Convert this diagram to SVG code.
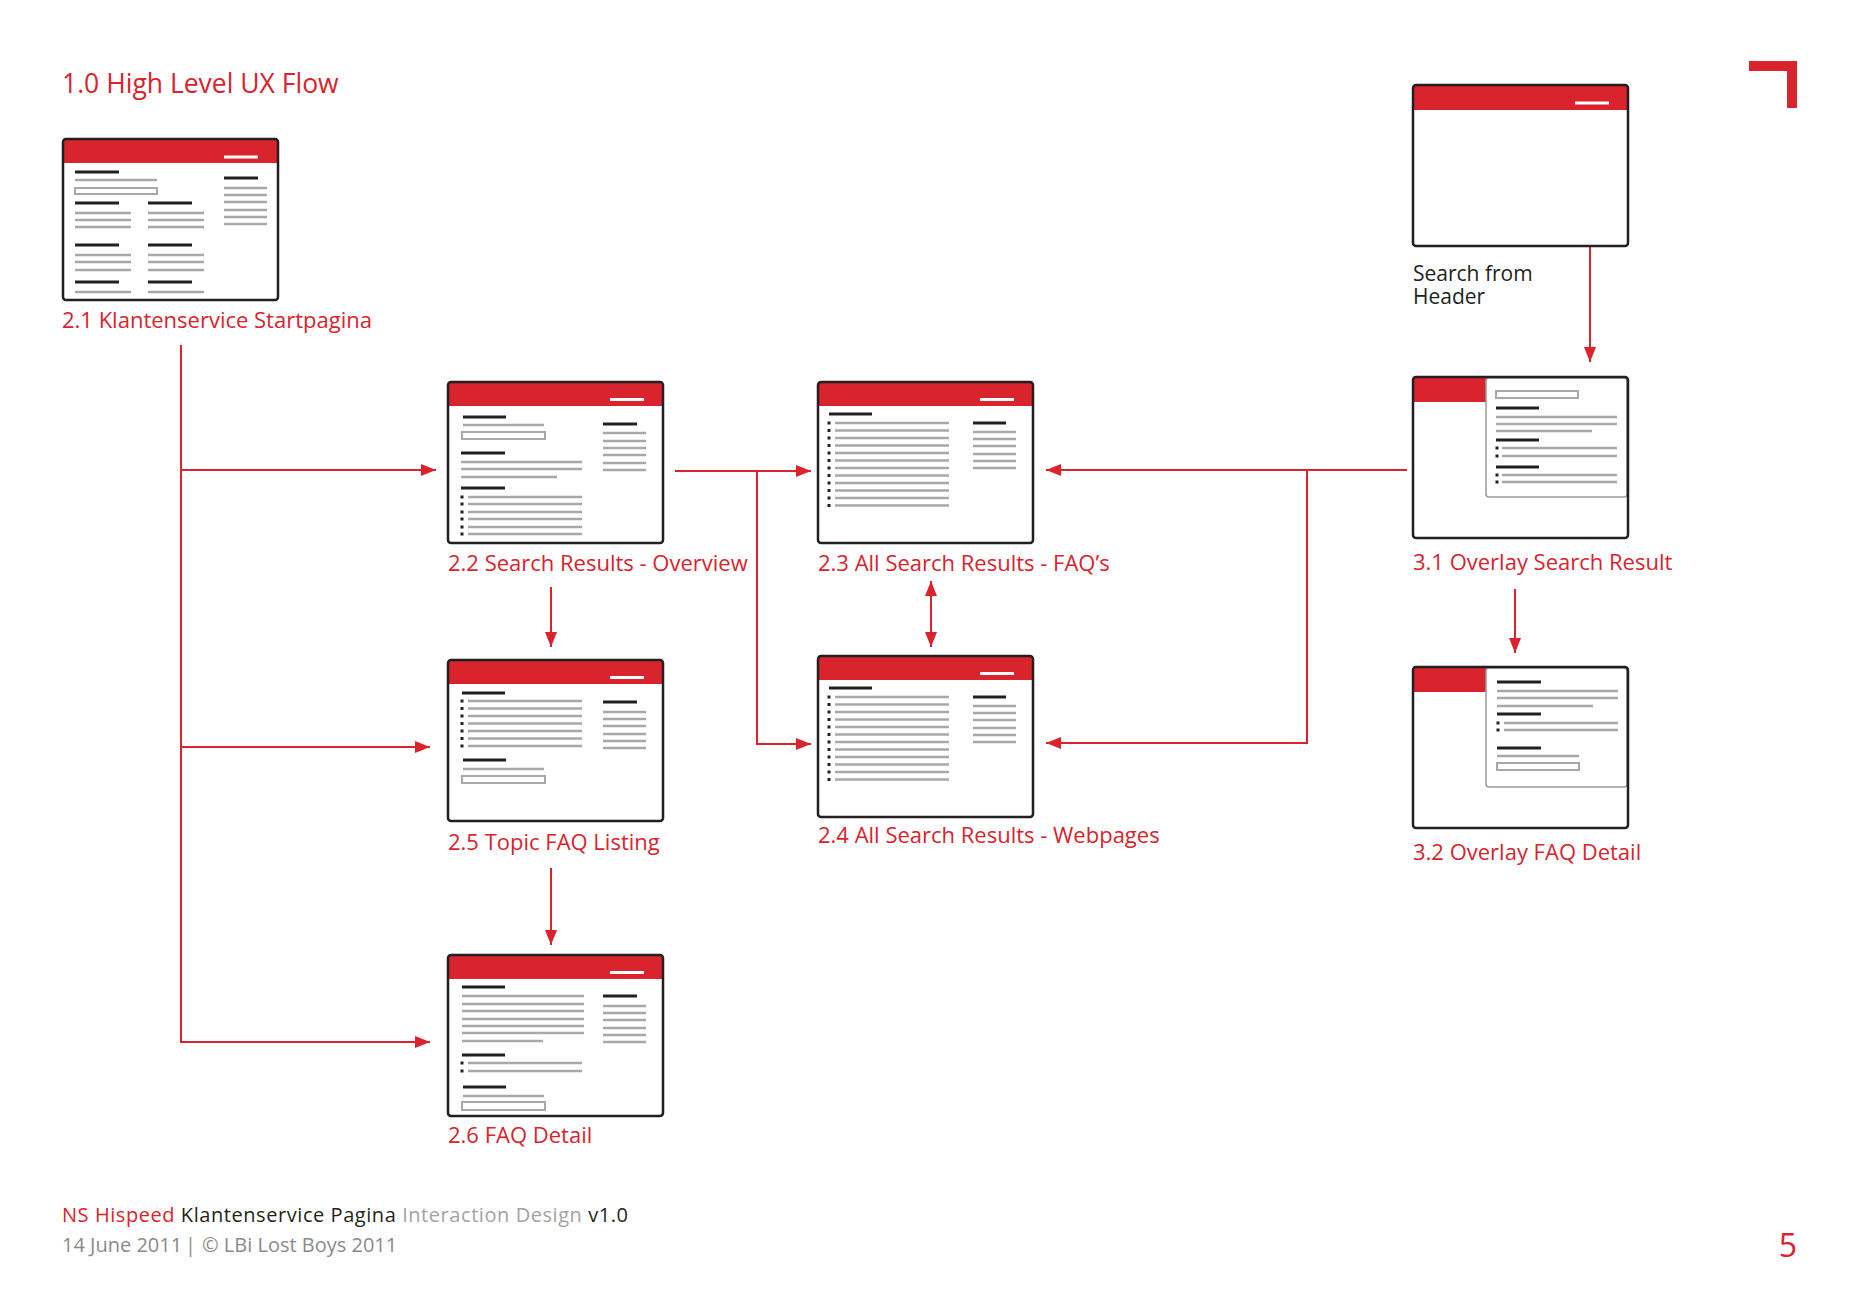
<svg xmlns="http://www.w3.org/2000/svg" width="1859" height="1314" viewBox="0 0 1859 1314">
<style>
.frame{fill:#fff}
.outline{fill:none;stroke:#231f20;stroke-width:2.5}
.hdr{fill:#d9232d}
.wb{stroke:#fff;stroke-width:3}
.bk{stroke:#231f20;stroke-width:3}
.gr{stroke:#a8a8a8;stroke-width:2.5}
.inp{fill:none;stroke:#a8a8a8;stroke-width:2}
.bul{fill:#231f20}
.panel{fill:#fff;stroke:#9a9a9a;stroke-width:1.5}
.lbl{font-family:"Open Sans","Liberation Sans",sans-serif;font-size:22px;fill:#d9232d}
.conn{fill:none;stroke:#d9232d;stroke-width:2}
</style>
<defs>
<marker id="ah" markerUnits="userSpaceOnUse" markerWidth="15" markerHeight="12" refX="15" refY="6" orient="auto-start-reverse">
<path d="M0,0 L15,6 L0,12 z" fill="#d9232d"/>
</marker>
</defs>
<rect width="1859" height="1314" fill="#fff"/>
<text x="62" y="93" font-family="Open Sans, Liberation Sans, sans-serif" font-size="26.5" fill="#d9232d">1.0 High Level UX Flow</text>
<path d="M1749,61 H1797 V108 H1787 V71 H1749 Z" fill="#d9232d"/>

<g id="connectors">
<path class="conn" d="M181,345 V1042 H430" marker-end="url(#ah)"/>
<path class="conn" d="M181,470 H436" marker-end="url(#ah)"/>
<path class="conn" d="M181,747 H430" marker-end="url(#ah)"/>
<path class="conn" d="M675,471 H811" marker-end="url(#ah)"/>
<path class="conn" d="M757,471 V744 H811" marker-end="url(#ah)"/>
<path class="conn" d="M1407,470 H1046" marker-end="url(#ah)"/>
<path class="conn" d="M1307,470 V743 H1046" marker-end="url(#ah)"/>
<path class="conn" d="M931,581 V647" marker-start="url(#ah)" marker-end="url(#ah)"/>
<path class="conn" d="M551,587 V647" marker-end="url(#ah)"/>
<path class="conn" d="M551,868 V945" marker-end="url(#ah)"/>
<path class="conn" d="M1515,589 V653" marker-end="url(#ah)"/>
<path class="conn" d="M1590,115 V362" marker-end="url(#ah)"/>
</g>

<g id="n21">
<g transform="translate(63,139)">
<rect class="frame" width="215" height="161" rx="3"/>
<rect class="hdr" width="215" height="24"/>
<line class="wb" x1="161" y1="18" x2="195" y2="18"/>
<line class="bk" x1="12" y1="33" x2="56" y2="33"/>
<line class="gr" x1="12" y1="41" x2="94" y2="41"/>
<rect class="inp" x="12" y="49" width="82" height="6"/>
<line class="bk" x1="12" y1="64" x2="56" y2="64"/><line class="bk" x1="85" y1="64" x2="129" y2="64"/>
<line class="gr" x1="12" y1="74" x2="68" y2="74"/><line class="gr" x1="85" y1="74" x2="141" y2="74"/>
<line class="gr" x1="12" y1="81" x2="68" y2="81"/><line class="gr" x1="85" y1="81" x2="141" y2="81"/>
<line class="gr" x1="12" y1="88" x2="68" y2="88"/><line class="gr" x1="85" y1="88" x2="141" y2="88"/>
<line class="bk" x1="12" y1="106" x2="56" y2="106"/><line class="bk" x1="85" y1="106" x2="129" y2="106"/>
<line class="gr" x1="12" y1="116" x2="68" y2="116"/><line class="gr" x1="85" y1="116" x2="141" y2="116"/>
<line class="gr" x1="12" y1="123" x2="68" y2="123"/><line class="gr" x1="85" y1="123" x2="141" y2="123"/>
<line class="gr" x1="12" y1="131" x2="68" y2="131"/><line class="gr" x1="85" y1="131" x2="141" y2="131"/>
<line class="bk" x1="12" y1="143" x2="56" y2="143"/><line class="bk" x1="85" y1="143" x2="129" y2="143"/>
<line class="gr" x1="12" y1="153" x2="68" y2="153"/><line class="gr" x1="85" y1="153" x2="141" y2="153"/>
<line class="bk" x1="161" y1="39" x2="195" y2="39"/>
<line class="gr" x1="161" y1="49" x2="204" y2="49"/>
<line class="gr" x1="161" y1="56" x2="204" y2="56"/>
<line class="gr" x1="161" y1="63" x2="204" y2="63"/>
<line class="gr" x1="161" y1="71" x2="204" y2="71"/>
<line class="gr" x1="161" y1="78" x2="204" y2="78"/>
<line class="gr" x1="161" y1="85" x2="204" y2="85"/>
<rect class="outline" width="215" height="161" rx="3"/>
</g>
<text class="lbl" x="62" y="328">2.1 Klantenservice Startpagina</text>
</g>

<g id="n22">
<g transform="translate(448,382)">
<rect class="frame" width="215" height="161" rx="3"/>
<rect class="hdr" width="215" height="24"/>
<line class="wb" x1="162" y1="17.5" x2="196" y2="17.5"/>
<line class="bk" x1="15" y1="35" x2="58" y2="35"/>
<line class="gr" x1="15" y1="43" x2="96" y2="43"/>
<rect class="inp" x="14" y="50" width="83" height="7"/>
<line class="bk" x1="13" y1="71" x2="57" y2="71"/>
<line class="gr" x1="13" y1="80" x2="134" y2="80"/>
<line class="gr" x1="13" y1="87" x2="134" y2="87"/>
<line class="gr" x1="13" y1="95" x2="109" y2="95"/>
<line class="bk" x1="13" y1="106" x2="57" y2="106"/>
<rect class="bul" x="12.5" y="113.5" width="3" height="3"/><line class="gr" x1="20" y1="115" x2="134" y2="115"/>
<rect class="bul" x="12.5" y="120.5" width="3" height="3"/><line class="gr" x1="20" y1="122" x2="134" y2="122"/>
<rect class="bul" x="12.5" y="128.5" width="3" height="3"/><line class="gr" x1="20" y1="130" x2="134" y2="130"/>
<rect class="bul" x="12.5" y="135.5" width="3" height="3"/><line class="gr" x1="20" y1="137" x2="134" y2="137"/>
<rect class="bul" x="12.5" y="143.5" width="3" height="3"/><line class="gr" x1="20" y1="145" x2="134" y2="145"/>
<rect class="bul" x="12.5" y="150.5" width="3" height="3"/><line class="gr" x1="20" y1="152" x2="134" y2="152"/>
<line class="bk" x1="155" y1="42" x2="189" y2="42"/>
<line class="gr" x1="155" y1="51" x2="198" y2="51"/>
<line class="gr" x1="155" y1="59" x2="198" y2="59"/>
<line class="gr" x1="155" y1="66" x2="198" y2="66"/>
<line class="gr" x1="155" y1="73" x2="198" y2="73"/>
<line class="gr" x1="155" y1="81" x2="198" y2="81"/>
<line class="gr" x1="155" y1="88" x2="198" y2="88"/>
<rect class="outline" width="215" height="161" rx="3"/>
</g>
<text class="lbl" x="448" y="571">2.2 Search Results - Overview</text>
</g>

<g id="n23">
<g transform="translate(818,382)">
<rect class="frame" width="215" height="161" rx="3"/>
<rect class="hdr" width="215" height="24"/>
<line class="wb" x1="162" y1="17.5" x2="196" y2="17.5"/>
<line class="bk" x1="11" y1="32" x2="54" y2="32"/>
<g>
<rect class="bul" x="9.5" y="39.5" width="3" height="3"/><line class="gr" x1="17" y1="41" x2="131" y2="41"/>
<rect class="bul" x="9.5" y="47" width="3" height="3"/><line class="gr" x1="17" y1="48.5" x2="131" y2="48.5"/>
<rect class="bul" x="9.5" y="54.5" width="3" height="3"/><line class="gr" x1="17" y1="56" x2="131" y2="56"/>
<rect class="bul" x="9.5" y="62" width="3" height="3"/><line class="gr" x1="17" y1="63.5" x2="131" y2="63.5"/>
<rect class="bul" x="9.5" y="69.5" width="3" height="3"/><line class="gr" x1="17" y1="71" x2="131" y2="71"/>
<rect class="bul" x="9.5" y="77" width="3" height="3"/><line class="gr" x1="17" y1="78.5" x2="131" y2="78.5"/>
<rect class="bul" x="9.5" y="84.5" width="3" height="3"/><line class="gr" x1="17" y1="86" x2="131" y2="86"/>
<rect class="bul" x="9.5" y="92" width="3" height="3"/><line class="gr" x1="17" y1="93.5" x2="131" y2="93.5"/>
<rect class="bul" x="9.5" y="99.5" width="3" height="3"/><line class="gr" x1="17" y1="101" x2="131" y2="101"/>
<rect class="bul" x="9.5" y="107" width="3" height="3"/><line class="gr" x1="17" y1="108.5" x2="131" y2="108.5"/>
<rect class="bul" x="9.5" y="114.5" width="3" height="3"/><line class="gr" x1="17" y1="116" x2="131" y2="116"/>
<rect class="bul" x="9.5" y="122" width="3" height="3"/><line class="gr" x1="17" y1="123.5" x2="131" y2="123.5"/>
</g>
<line class="bk" x1="155" y1="41" x2="188" y2="41"/>
<line class="gr" x1="155" y1="50" x2="198" y2="50"/>
<line class="gr" x1="155" y1="57" x2="198" y2="57"/>
<line class="gr" x1="155" y1="64" x2="198" y2="64"/>
<line class="gr" x1="155" y1="72" x2="198" y2="72"/>
<line class="gr" x1="155" y1="79" x2="198" y2="79"/>
<line class="gr" x1="155" y1="86" x2="198" y2="86"/>
<rect class="outline" width="215" height="161" rx="3"/>
</g>
<text class="lbl" x="818" y="571">2.3 All Search Results - FAQ’s</text>
</g>

<g id="n24">
<g transform="translate(818,656)">
<rect class="frame" width="215" height="161" rx="3"/>
<rect class="hdr" width="215" height="24"/>
<line class="wb" x1="162" y1="17.5" x2="196" y2="17.5"/>
<line class="bk" x1="11" y1="32" x2="54" y2="32"/>
<g>
<rect class="bul" x="9.5" y="39.5" width="3" height="3"/><line class="gr" x1="17" y1="41" x2="131" y2="41"/>
<rect class="bul" x="9.5" y="47" width="3" height="3"/><line class="gr" x1="17" y1="48.5" x2="131" y2="48.5"/>
<rect class="bul" x="9.5" y="54.5" width="3" height="3"/><line class="gr" x1="17" y1="56" x2="131" y2="56"/>
<rect class="bul" x="9.5" y="62" width="3" height="3"/><line class="gr" x1="17" y1="63.5" x2="131" y2="63.5"/>
<rect class="bul" x="9.5" y="69.5" width="3" height="3"/><line class="gr" x1="17" y1="71" x2="131" y2="71"/>
<rect class="bul" x="9.5" y="77" width="3" height="3"/><line class="gr" x1="17" y1="78.5" x2="131" y2="78.5"/>
<rect class="bul" x="9.5" y="84.5" width="3" height="3"/><line class="gr" x1="17" y1="86" x2="131" y2="86"/>
<rect class="bul" x="9.5" y="92" width="3" height="3"/><line class="gr" x1="17" y1="93.5" x2="131" y2="93.5"/>
<rect class="bul" x="9.5" y="99.5" width="3" height="3"/><line class="gr" x1="17" y1="101" x2="131" y2="101"/>
<rect class="bul" x="9.5" y="107" width="3" height="3"/><line class="gr" x1="17" y1="108.5" x2="131" y2="108.5"/>
<rect class="bul" x="9.5" y="114.5" width="3" height="3"/><line class="gr" x1="17" y1="116" x2="131" y2="116"/>
<rect class="bul" x="9.5" y="122" width="3" height="3"/><line class="gr" x1="17" y1="123.5" x2="131" y2="123.5"/>
</g>
<line class="bk" x1="155" y1="41" x2="188" y2="41"/>
<line class="gr" x1="155" y1="50" x2="198" y2="50"/>
<line class="gr" x1="155" y1="57" x2="198" y2="57"/>
<line class="gr" x1="155" y1="64" x2="198" y2="64"/>
<line class="gr" x1="155" y1="72" x2="198" y2="72"/>
<line class="gr" x1="155" y1="79" x2="198" y2="79"/>
<line class="gr" x1="155" y1="86" x2="198" y2="86"/>
<rect class="outline" width="215" height="161" rx="3"/>
</g>
<text class="lbl" x="818" y="843">2.4 All Search Results - Webpages</text>
</g>

<g id="n25">
<g transform="translate(448,660)">
<rect class="frame" width="215" height="161" rx="3"/>
<rect class="hdr" width="215" height="24"/>
<line class="wb" x1="162" y1="17.5" x2="196" y2="17.5"/>
<line class="bk" x1="14" y1="33" x2="57" y2="33"/>
<rect class="bul" x="12.5" y="39.5" width="3" height="3"/><line class="gr" x1="20" y1="41" x2="134" y2="41"/>
<rect class="bul" x="12.5" y="47" width="3" height="3"/><line class="gr" x1="20" y1="48.5" x2="134" y2="48.5"/>
<rect class="bul" x="12.5" y="54.5" width="3" height="3"/><line class="gr" x1="20" y1="56" x2="134" y2="56"/>
<rect class="bul" x="12.5" y="62" width="3" height="3"/><line class="gr" x1="20" y1="63.5" x2="134" y2="63.5"/>
<rect class="bul" x="12.5" y="69.5" width="3" height="3"/><line class="gr" x1="20" y1="71" x2="134" y2="71"/>
<rect class="bul" x="12.5" y="77" width="3" height="3"/><line class="gr" x1="20" y1="78.5" x2="134" y2="78.5"/>
<rect class="bul" x="12.5" y="84.5" width="3" height="3"/><line class="gr" x1="20" y1="86" x2="134" y2="86"/>
<line class="bk" x1="15" y1="100" x2="58" y2="100"/>
<line class="gr" x1="15" y1="109" x2="96" y2="109"/>
<rect class="inp" x="14" y="116" width="83" height="7"/>
<line class="bk" x1="155" y1="42" x2="189" y2="42"/>
<line class="gr" x1="155" y1="52" x2="198" y2="52"/>
<line class="gr" x1="155" y1="59" x2="198" y2="59"/>
<line class="gr" x1="155" y1="66" x2="198" y2="66"/>
<line class="gr" x1="155" y1="74" x2="198" y2="74"/>
<line class="gr" x1="155" y1="81" x2="198" y2="81"/>
<line class="gr" x1="155" y1="88" x2="198" y2="88"/>
<rect class="outline" width="215" height="161" rx="3"/>
</g>
<text class="lbl" x="448" y="850">2.5 Topic FAQ Listing</text>
</g>

<g id="n26">
<g transform="translate(448,955)">
<rect class="frame" width="215" height="161" rx="3"/>
<rect class="hdr" width="215" height="24"/>
<line class="wb" x1="162" y1="17.5" x2="196" y2="17.5"/>
<line class="bk" x1="14" y1="32" x2="57" y2="32"/>
<line class="gr" x1="14" y1="41" x2="136" y2="41"/>
<line class="gr" x1="14" y1="49" x2="136" y2="49"/>
<line class="gr" x1="14" y1="56" x2="136" y2="56"/>
<line class="gr" x1="14" y1="64" x2="136" y2="64"/>
<line class="gr" x1="14" y1="71" x2="136" y2="71"/>
<line class="gr" x1="14" y1="78" x2="136" y2="78"/>
<line class="gr" x1="14" y1="86" x2="95" y2="86"/>
<line class="bk" x1="14" y1="100" x2="57" y2="100"/>
<rect class="bul" x="12.5" y="106.5" width="3" height="3"/><line class="gr" x1="20" y1="108" x2="134" y2="108"/>
<rect class="bul" x="12.5" y="114.5" width="3" height="3"/><line class="gr" x1="20" y1="116" x2="134" y2="116"/>
<line class="bk" x1="15" y1="132" x2="58" y2="132"/>
<line class="gr" x1="15" y1="141" x2="96" y2="141"/>
<rect class="inp" x="14" y="147" width="83" height="8"/>
<line class="bk" x1="155" y1="41" x2="189" y2="41"/>
<line class="gr" x1="155" y1="51" x2="198" y2="51"/>
<line class="gr" x1="155" y1="58" x2="198" y2="58"/>
<line class="gr" x1="155" y1="65" x2="198" y2="65"/>
<line class="gr" x1="155" y1="73" x2="198" y2="73"/>
<line class="gr" x1="155" y1="80" x2="198" y2="80"/>
<line class="gr" x1="155" y1="87" x2="198" y2="87"/>
<rect class="outline" width="215" height="161" rx="3"/>
</g>
<text class="lbl" x="448" y="1143">2.6 FAQ Detail</text>
</g>

<g id="nheader">
<g transform="translate(1413,85)">
<rect class="frame" width="215" height="161" rx="3"/>
<rect class="hdr" width="215" height="25"/>
<line class="wb" x1="162" y1="18" x2="196" y2="18"/>
<rect class="outline" width="215" height="161" rx="3"/>
</g>
<text font-family="Open Sans, Liberation Sans, sans-serif" font-size="21" fill="#231f20"><tspan x="1413" y="281">Search from</tspan><tspan x="1413" y="304">Header</tspan></text>
</g>

<g id="n31">
<g transform="translate(1413,377)">
<rect class="frame" width="215" height="161" rx="3"/>
<rect class="hdr" width="73" height="25"/>
<rect class="panel" x="73" y="1" width="141" height="119" rx="3"/>
<rect class="inp" x="83" y="14" width="82" height="7"/>
<line class="bk" x1="83" y1="31" x2="126" y2="31"/>
<line class="gr" x1="83" y1="40" x2="204" y2="40"/>
<line class="gr" x1="83" y1="47" x2="204" y2="47"/>
<line class="gr" x1="83" y1="54" x2="179" y2="54"/>
<line class="bk" x1="83" y1="63" x2="126" y2="63"/>
<rect class="bul" x="82.5" y="69.5" width="3" height="3"/><line class="gr" x1="89" y1="71" x2="204" y2="71"/>
<rect class="bul" x="82.5" y="77.5" width="3" height="3"/><line class="gr" x1="89" y1="79" x2="204" y2="79"/>
<line class="bk" x1="83" y1="90" x2="126" y2="90"/>
<rect class="bul" x="82.5" y="96.5" width="3" height="3"/><line class="gr" x1="89" y1="98" x2="204" y2="98"/>
<rect class="bul" x="82.5" y="103.5" width="3" height="3"/><line class="gr" x1="89" y1="105" x2="204" y2="105"/>
<rect class="outline" width="215" height="161" rx="3"/>
</g>
<text class="lbl" x="1413" y="570">3.1 Overlay Search Result</text>
</g>

<g id="n32">
<g transform="translate(1413,667)">
<rect class="frame" width="215" height="161" rx="3"/>
<rect class="hdr" width="73" height="25"/>
<rect class="panel" x="73" y="1" width="141" height="119" rx="3"/>
<line class="bk" x1="84" y1="15" x2="128" y2="15"/>
<line class="gr" x1="84" y1="24" x2="205" y2="24"/>
<line class="gr" x1="84" y1="31" x2="205" y2="31"/>
<line class="gr" x1="84" y1="39" x2="180" y2="39"/>
<line class="bk" x1="84" y1="47" x2="128" y2="47"/>
<rect class="bul" x="83.5" y="54.5" width="3" height="3"/><line class="gr" x1="91" y1="56" x2="205" y2="56"/>
<rect class="bul" x="83.5" y="61.5" width="3" height="3"/><line class="gr" x1="91" y1="63" x2="205" y2="63"/>
<line class="bk" x1="84" y1="81" x2="128" y2="81"/>
<line class="gr" x1="84" y1="89" x2="166" y2="89"/>
<rect class="inp" x="84" y="96" width="82" height="7"/>
<rect class="outline" width="215" height="161" rx="3"/>
</g>
<text class="lbl" x="1413" y="860">3.2 Overlay FAQ Detail</text>
</g>

<g id="footer" font-family="Open Sans, Liberation Sans, sans-serif" font-size="20">
<text x="62" y="1222" textLength="566" lengthAdjust="spacing"><tspan fill="#d9232d">NS Hispeed</tspan><tspan fill="#231f20"> Klantenservice Pagina</tspan><tspan fill="#a3a3a3"> Interaction Design</tspan><tspan fill="#231f20"> v1.0</tspan></text>
<text y="1252" fill="#8a8a8a"><tspan x="62">14 June 2011</tspan><tspan x="185">|</tspan><tspan x="202">© LBi Lost Boys 2011</tspan></text>
</g>
<text x="1797" y="1257" text-anchor="end" font-family="Open Sans, Liberation Sans, sans-serif" font-size="32" fill="#d9232d">5</text>
</svg>
